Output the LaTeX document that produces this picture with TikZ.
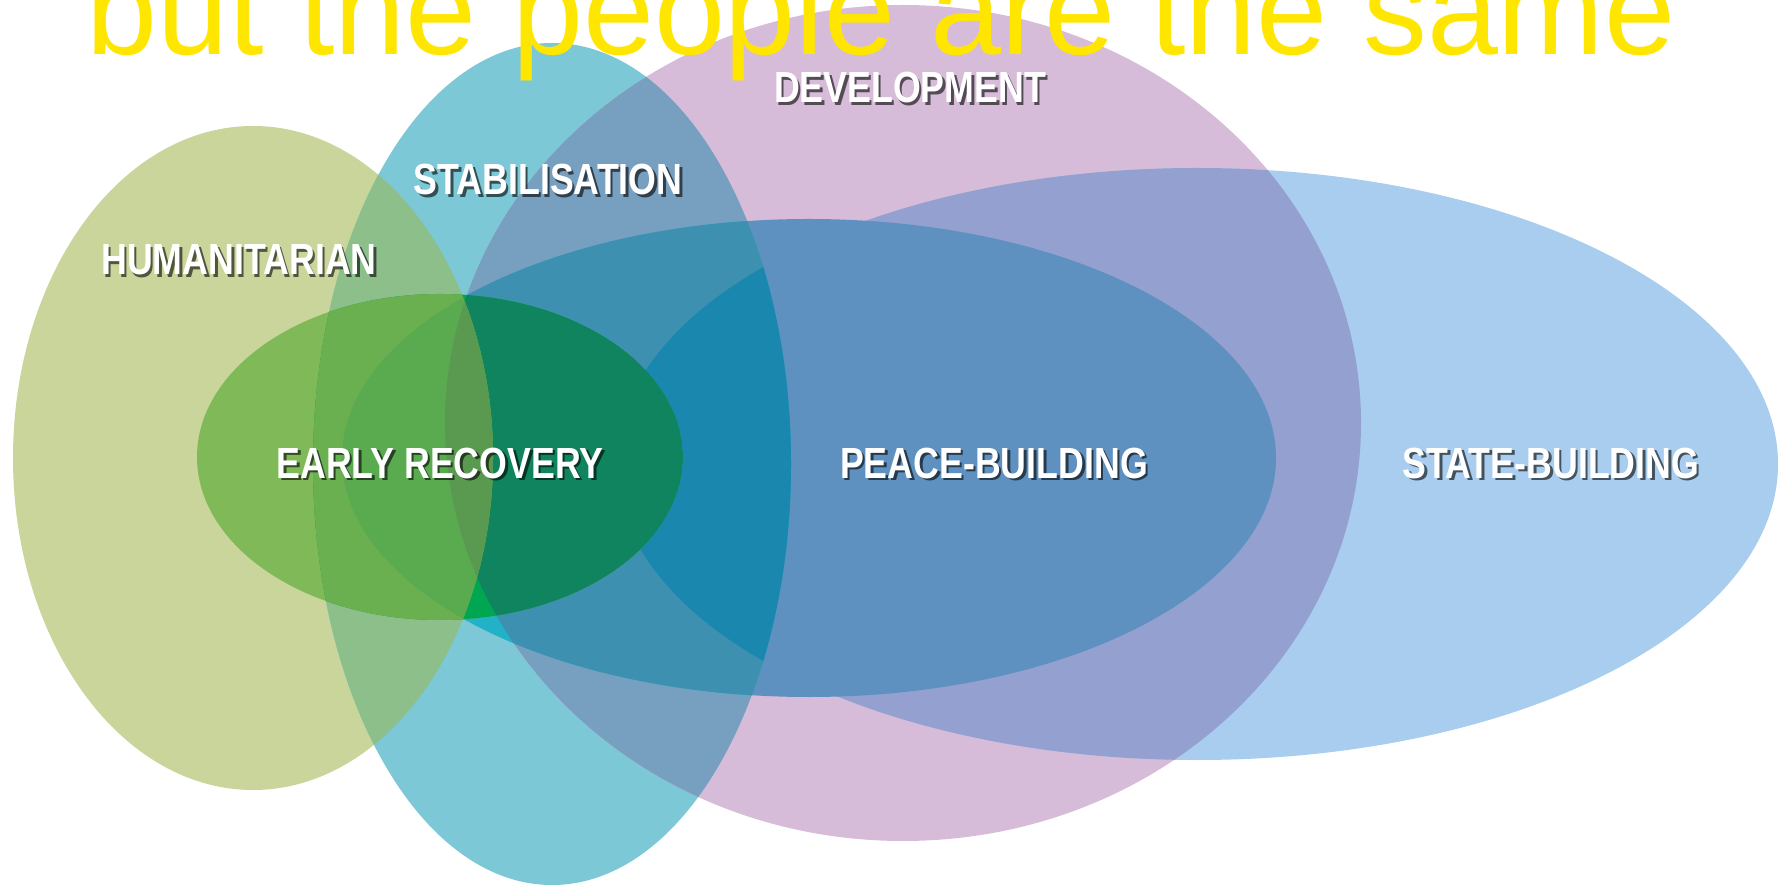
\documentclass[tikz,border=0pt]{standalone}
\usepackage{fontspec}
\newfontfamily\headfont{Liberation Sans}
\newfontfamily\lblfont{Liberation Sans}[FakeStretch=0.82]

\definecolor{humcol}{HTML}{C9D59A}
\definecolor{stabcol}{HTML}{7CC8D6}
\definecolor{devcol}{HTML}{D6BCD9}
\definecolor{statecol}{HTML}{A8CDEE}
\definecolor{humstab}{HTML}{8DBF8A}
\definecolor{stabdev}{HTML}{779FBF}
\definecolor{devstate}{HTML}{94A0D0}
\definecolor{peacecol}{HTML}{5E91C0}
\definecolor{peacecyan}{HTML}{22B2C8}
\definecolor{peacestab}{HTML}{3D90B0}
\definecolor{peacestate}{HTML}{1A87AE}
\definecolor{ercol}{HTML}{80BA58}
\definecolor{erstab}{HTML}{00A651}
\definecolor{erstabdev}{HTML}{10845E}
\definecolor{erhumstab}{HTML}{6AB050}
\definecolor{erhumpeace}{HTML}{5AAA50}
\definecolor{erhumdev}{HTML}{5A9A50}
\definecolor{headyellow}{HTML}{FFE600}

\newcommand\humpath{(2.53,4.28) ellipse [x radius=2.40, y radius=3.32]}
\newcommand\stabpath{(5.52,4.22) ellipse [x radius=2.39, y radius=4.21]}
\newcommand\devpath{(9.03,4.63) ellipse [x radius=4.58, y radius=4.18]}
\newcommand\statepath{(11.97,4.22) ellipse [x radius=5.81, y radius=2.96]}
\newcommand\peacepath{(8.09,4.28) ellipse [x radius=4.67, y radius=2.39]}
\newcommand\erpath{(4.40,4.29) ellipse [x radius=2.43, y radius=1.63]}

\tikzset{
  lbl/.style={text=white, inner sep=0pt,
    font={\lblfont\bfseries\fontsize{12.4pt}{14pt}\selectfont}},
  lblshadow/.style={lbl, text=black, text opacity=0.6},
  headtxt/.style={text=headyellow, inner sep=0pt, anchor=base west,
    font={\headfont\fontsize{36.3pt}{40pt}\selectfont}},
}
\newcommand\venlabel[3]{%
  \node[lblshadow] (#1-sh) at ([shift={(0.025,-0.03)}]#2) {#3};
  \node[lbl] (#1) at (#2) {#3};}

\begin{document}
\begin{tikzpicture}[x=1cm,y=1cm]
\useasboundingbox (0,0) rectangle (17.90,8.86);

% the four large fields
\fill[humcol] \humpath;
\fill[stabcol] \stabpath;
\fill[devcol] \devpath;
\fill[statecol] \statepath;
\begin{scope}\clip \humpath; \fill[humstab] \stabpath;\end{scope}
\begin{scope}\clip \stabpath; \fill[stabdev] \devpath;\end{scope}
\begin{scope}\clip \devpath; \fill[devstate] \statepath;\end{scope}

% peace-building
\fill[peacecol] \peacepath;
\begin{scope}
  \clip \peacepath; \clip \stabpath;
  \fill[peacecyan] \peacepath;
  \begin{scope}\clip \devpath; \fill[peacestab] \peacepath;\end{scope}
  \clip \statepath; \fill[peacestate] \peacepath;
\end{scope}

% early recovery
\begin{scope}
  \clip \erpath;
  \fill[ercol] \erpath;
  \begin{scope}
    \clip \stabpath; \fill[erstab] \erpath;
    \clip \devpath; \fill[erstabdev] \erpath;
  \end{scope}
  \begin{scope}
    \clip \humpath; \clip \stabpath; \fill[erhumstab] \erpath;
    \clip \peacepath; \fill[erhumpeace] \erpath;
    \clip \devpath; \fill[erhumdev] \erpath;
  \end{scope}
\end{scope}

\venlabel{dev}{9.10,7.98}{DEVELOPMENT}
\venlabel{stab}{5.48,7.06}{STABILISATION}
\venlabel{hum}{2.39,6.26}{HUMANITARIAN}
\venlabel{er}{4.40,4.23}{EARLY RECOVERY}
\venlabel{peace}{9.94,4.23}{PEACE-BUILDING}
\venlabel{state}{15.51,4.23}{STATE-BUILDING}

\node[headtxt] (head) at (0.86,8.31) {but the people are the same};
\end{tikzpicture}
\end{document}
